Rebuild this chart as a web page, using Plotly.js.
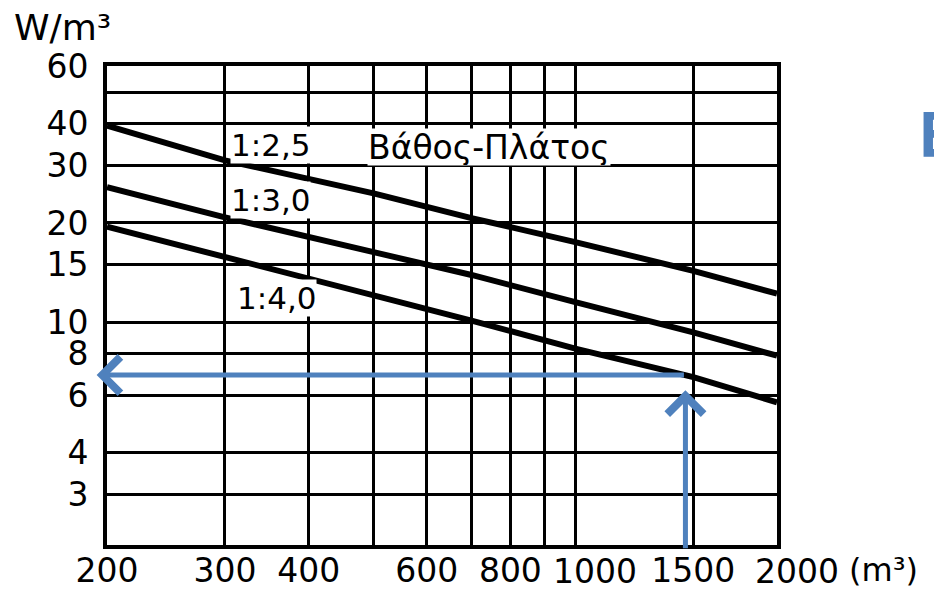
<!DOCTYPE html>
<html>
<head>
<meta charset="utf-8">
<script src="https://cdn.plot.ly/plotly-3.0.1.min.js"></script>
<style>html,body{margin:0;padding:0;background:#fff;}#chart{width:934px;height:589px;}</style>
</head>
<body>
<div id="chart"></div>
<script>
// Volume (m³)
const volumes = [200, 300, 500, 700, 1000, 1500, 2000];
// Specific load W/m³ for depth:width ratios
const ratio25 = [39.5, 31.0, 24.6, 20.7, 17.5, 14.3, 12.2];
const ratio30 = [25.7, 20.8, 16.3, 13.9, 11.5, 9.3, 7.9];
const ratio40 = [19.5, 15.8, 12.0, 10.1, 8.3, 6.8, 5.7];
const seriesNames = ["1:2,5", "1:3,0", "1:4,0"];

const xTickVals = [200, 300, 400, 500, 600, 700, 800, 900, 1000, 1500, 2000];
const xTickText = ["200", "300", "400", "", "600", "", "800", "", "", "1500", ""];
// labels drawn slightly right of their grid line in the original
const xShiftedTicks = [1000, 2000];
const yTickVals = [3, 4, 6, 8, 10, 15, 20, 30, 40, 50, 60];
const yTickText = ["3", "4", "6", "8", "10", "15", "20", "30", "40", "", "60"];

// Reading example (blue arrows)
const readVolume = 1460;
const readValue = 6.9;
const arrowTipValue = 6.2;
const arrowBaseValue = 2.03;
const arrowTipVolume = 193;

const FONT = "DejaVu Sans, sans-serif";
const BLUE = "#4F81BD";
const lg = Math.log10;

const lineStyle = {color: "#000", width: 6};
const traces = [ratio25, ratio30, ratio40].map((ys, i) => ({
  x: volumes, y: ys, type: "scatter", mode: "lines",
  name: seriesNames[i], line: lineStyle, hoverinfo: "x+y+name"
}));

const labelFont = {family: FONT, size: 31, color: "#000"};
const tickFontX = {family: FONT, size: 33, color: "#000"};
const annotations = [
  {xref: "paper", yref: "paper", x: 0.183, y: 0.835, xanchor: "left", yanchor: "middle",
   text: seriesNames[0], showarrow: false, font: labelFont, bgcolor: "#fff", borderpad: 0},
  {xref: "paper", yref: "paper", x: 0.388, y: 0.83, xanchor: "left", yanchor: "middle",
   text: "Βάθος-Πλάτος", showarrow: false, font: {family: FONT, size: 33, color: "#000"}, bgcolor: "#fff", height: 36, borderpad: 0},
  {xref: "paper", yref: "paper", x: 0.183, y: 0.72, xanchor: "left", yanchor: "middle",
   text: seriesNames[1], showarrow: false, font: labelFont, bgcolor: "#fff", borderpad: 0},
  {xref: "paper", yref: "paper", x: 0.192, y: 0.516, xanchor: "left", yanchor: "middle",
   text: seriesNames[2], showarrow: false, font: labelFont, bgcolor: "#fff", borderpad: 0},
  // axis titles
  {xref: "paper", yref: "paper", x: -0.142, y: 1.127, xanchor: "left", yanchor: "top",
   text: "W/m³", showarrow: false, font: {family: FONT, size: 36, color: "#000"}},
  {xref: "paper", yref: "paper", x: 1.105, y: 0.0, xanchor: "left", yanchor: "middle",
   yshift: -25, height: 32, text: "(m³)", showarrow: false, font: {family: FONT, size: 32, color: "#000"}},
  // clipped blue heading at right edge
  {xref: "paper", yref: "paper", x: 1.208, y: 0.86, xanchor: "left", yanchor: "middle",
   text: "<b>Ε</b>", showarrow: false, font: {family: "Open Sans, sans-serif", size: 62, color: BLUE}},
  // horizontal reading arrow (points left to the y axis)
  {xref: "x", yref: "y", axref: "x", ayref: "y",
   x: lg(arrowTipVolume), y: lg(readValue), ax: lg(readVolume), ay: lg(readValue),
   text: "", showarrow: true, arrowhead: 4, arrowsize: 1.4, arrowwidth: 5, arrowcolor: BLUE, standoff: 0},
  // vertical reading arrow (from the x axis up to the curve)
  {xref: "x", yref: "y", axref: "x", ayref: "y",
   x: lg(readVolume), y: lg(arrowTipValue), ax: lg(readVolume), ay: lg(arrowBaseValue),
   text: "", showarrow: true, arrowhead: 4, arrowsize: 1.4, arrowwidth: 5, arrowcolor: BLUE, standoff: 0}
].concat(xShiftedTicks.map(v => ({
  xref: "x", yref: "paper", x: lg(v), y: 0, xanchor: "center", yanchor: "middle",
  xshift: 20, yshift: -26, height: 32, borderpad: 0,
  text: String(v), showarrow: false, font: tickFontX
})));

const layout = {
  width: 934, height: 589,
  margin: {l: 107, r: 157, t: 66, b: 44},
  paper_bgcolor: "#fff", plot_bgcolor: "#fff",
  showlegend: false,
  font: {family: FONT, color: "#000"},
  xaxis: {
    type: "log", range: [lg(200), lg(2000)],
    tickmode: "array", tickvals: xTickVals, ticktext: xTickText,
    showgrid: true, gridcolor: "#000", gridwidth: 3,
    showline: true, mirror: true, linecolor: "#000", linewidth: 4,
    ticks: "", zeroline: false, tickangle: 0, automargin: false,
    ticklabelstandoff: -7,
    tickfont: tickFontX
  },
  yaxis: {
    type: "log", range: [lg(2.1), lg(60)],
    tickmode: "array", tickvals: yTickVals, ticktext: yTickText,
    showgrid: true, gridcolor: "#000", gridwidth: 3,
    showline: true, mirror: true, linecolor: "#000", linewidth: 4,
    ticks: "", zeroline: false, ticklabelstandoff: 8, automargin: false,
    tickfont: {family: FONT, size: 33, color: "#000"}
  },
  annotations: annotations
};

Plotly.newPlot("chart", traces, layout, {displayModeBar: false, staticPlot: true});
</script>
</body>
</html>
